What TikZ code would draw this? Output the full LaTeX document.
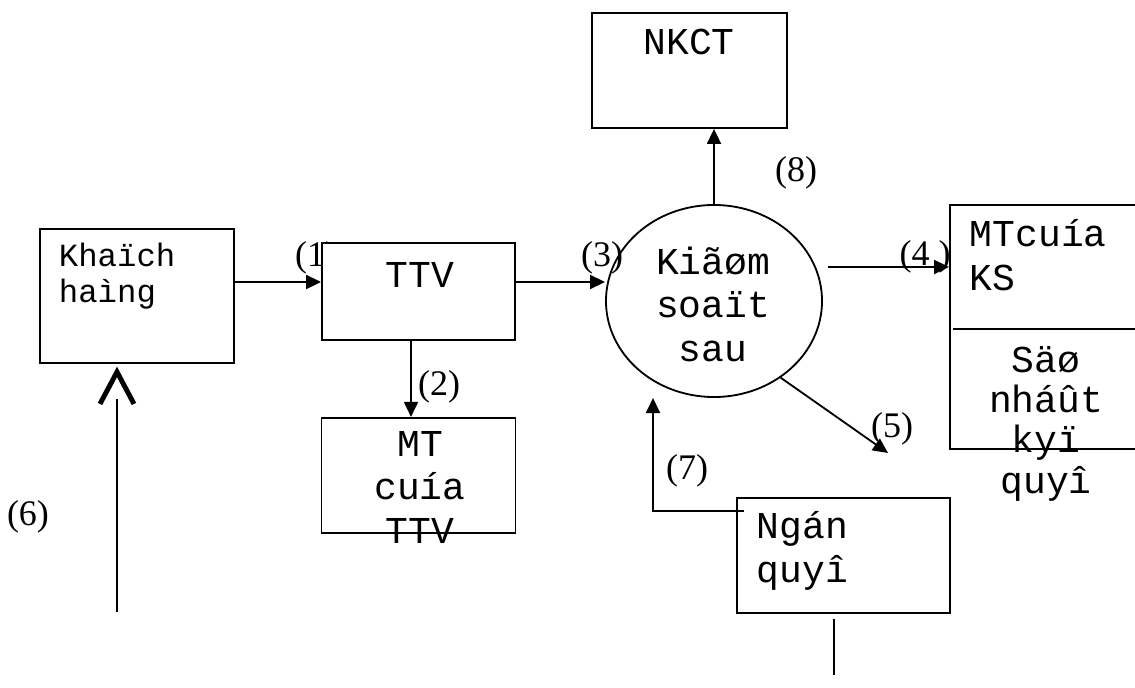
\documentclass[tikz,border=0pt]{standalone}
\usepackage{fontspec}
\setmainfont{Liberation Serif}
\setmonofont{Liberation Mono}
\usetikzlibrary{positioning,arrows.meta,shapes.geometric,calc}

\begin{document}
\begin{tikzpicture}[x=0.025cm, y=-0.025cm, line width=1.3pt,
  box/.style={draw, fill=white, rectangle, inner sep=0pt},
  txt/.style={inner sep=0pt, font=\ttfamily\fontsize{27}{30.6}\selectfont},
  lbl/.style={inner sep=0pt, font=\fontsize{25.6}{28}\selectfont},
  arr/.style={-{Triangle[length=3.75mm,width=3.5mm]}},
  chev/.style={line width=3.5pt, line cap=butt, line join=miter}]
\useasboundingbox (0,0) rectangle (1135,688);
\clip (0,0) rectangle (1135,688);

% label (1) sits partly under the TTV box
\node[lbl] (l1) at (316,258) {(1)};

\node[box, minimum width=4.85cm, minimum height=3.35cm] (kh) at (137,296) {};
\node[box, minimum width=4.825cm, minimum height=2.425cm] (ttv) at (418.5,291.5) {};
\node[box, minimum width=4.85cm, minimum height=2.875cm, below=1.9cm of ttv] (mtt) {};
\node[box, minimum width=4.875cm, minimum height=2.875cm] (nkct) at (689.5,70.5) {};
\node[draw, ellipse, inner sep=0pt, minimum width=5.4cm, minimum height=4.8cm] (ks) at (714,301) {};
\node[box, minimum width=5cm, minimum height=6.1cm] (mtks) at (1050,327) {};
\node[box, minimum width=5.325cm, minimum height=2.875cm] (nq) at (843.5,555.5) {};
\draw ($(mtks.north west)+(4,125)$) -- ($(mtks.north east)+(0,125)$);

% multi-line texts: base is the baseline of the last line
\node[txt, font=\ttfamily\fontsize{23}{26.3}\selectfont, align=left, anchor=base west] (khT) at (58,303) {Khaïch\\haìng};
\node[txt, anchor=base] (ttvT) at (420,288) {TTV};
\node[txt, align=center, anchor=base] (mttT) at (420,543) {MT\\cuía\\TTV};
\node[txt, anchor=base] (nkctT) at (689,55) {NKCT};
\node[txt, align=center, anchor=base] (ksT) at (713,361) {Kiãøm\\soaït\\sau};
\node[txt, align=left, anchor=base west] (mtksT) at (969,290) {MTcuía\\KS};
\node[txt, font=\ttfamily\fontsize{27}{28.45}\selectfont, align=center, anchor=base] (mtksB) at (1046,493) {Säø\\nháût\\kyï\\quyî};
\node[txt, align=left, anchor=base west] (nqT) at (756,582) {Ngán\\quyî};

\node[lbl] (l2) at (439,387) {(2)};
\node[lbl] (l3) at (602,258) {(3)};
\node[lbl] (l4) at (925,257) {(4 )};
\node[lbl] (l5) at (892,429) {(5)};
\node[lbl] (l6) at (28,517) {(6)};
\node[lbl] (l7) at (687,471) {(7)};
\node[lbl] (l8) at (796,173) {(8)};

\coordinate (r1) at (0,282);
\draw[arr] (kh.east |- r1) -- (ttv.west |- r1);
\coordinate (c2) at (411,0);
\draw[arr] (ttv.south -| c2) -- (mtt.north -| c2);
\draw[arr] (ttv.east |- r1) -- (ks.west |- r1);
\coordinate (a4) at (828,267);
\draw[arr] (a4) -- (mtks.west |- a4);
\coordinate (a5) at (888,453);
\draw[arr] (ks.-49) -- (a5);
\coordinate (c6) at (117,612);
\draw (c6) -- ($(c6 |- kh.south)+(0,35)$);
\draw[chev] ($(c6 |- kh.south)+(-17,40)$) -- ($(c6 |- kh.south)+(0,8)$) -- ($(c6 |- kh.south)+(17,40)$);
\coordinate (a7) at (653,398);
\draw[arr] ($(nq.north west)+(8,14)$) -| (a7);
\draw[arr] (ks.north) -- (nkct.south -| ks.north);
\coordinate (c9) at (834,675);
\draw ($(nq.south -| c9)+(0,5)$) -- (c9);
\end{tikzpicture}
\end{document}
